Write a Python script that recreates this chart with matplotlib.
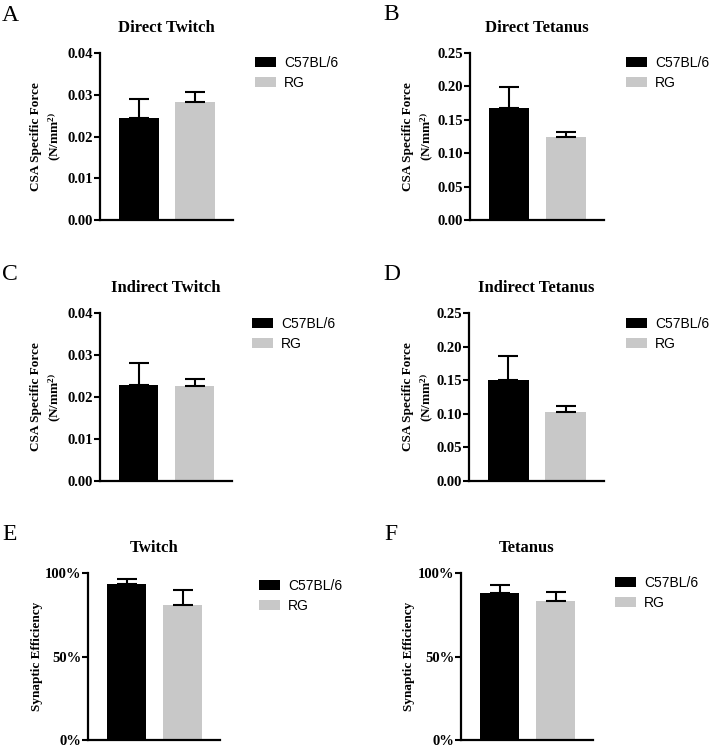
import matplotlib
matplotlib.use("Agg")
import matplotlib.pyplot as plt
from matplotlib.patches import Patch
from matplotlib.ticker import MultipleLocator, FormatStrFormatter, PercentFormatter

# ---- data ----
panel_letters = ["A", "B", "C", "D", "E", "F"]
titles = ["Direct Twitch", "Direct Tetanus", "Indirect Twitch",
          "Indirect Tetanus", "Twitch", "Tetanus"]
groups = ["C57BL/6", "RG"]
c57_mean = [0.0244, 0.168, 0.0229, 0.150, 0.934, 0.882]
c57_err = [0.0046, 0.031, 0.0051, 0.036, 0.030, 0.046]
rg_mean = [0.0283, 0.124, 0.0226, 0.102, 0.808, 0.832]
rg_err = [0.0024, 0.007, 0.0016, 0.009, 0.090, 0.052]
ymax = [0.04, 0.25, 0.04, 0.25, 1.0, 1.0]
ystep = [0.01, 0.05, 0.01, 0.05, 0.5, 0.5]
force_label = "CSA Specific Force\n(N/mm$^{2)}$"
eff_label = "Synaptic Efficiency"
ylabels = [force_label, force_label, force_label, force_label, eff_label, eff_label]

# ---- style ----
plt.rcParams['mathtext.fontset'] = 'custom'
plt.rcParams['mathtext.rm'] = 'Liberation Serif:bold'
plt.rcParams['mathtext.default'] = 'rm'
SERIF = "Liberation Serif"
SANS = "Liberation Sans"
colors = ["#000000", "#c8c8c8"]

W, H = 709, 748
fig = plt.figure(figsize=(W / 100, H / 100), dpi=100)

# axes rectangles in pixels: left, top, right, bottom
rects = [(100, 53, 233, 220), (470, 53, 604, 220),
         (100, 313, 232, 481), (469, 313, 604, 481),
         (88, 573, 220, 740), (461, 573, 593, 740)]
letter_pos = [(2, 5), (383, 4), (2, 264), (383, 264), (2, 524), (384, 524)]
label_x = [-0.28, -0.26, -0.28, -0.25, -0.34, -0.35]
leg_anchor = [(1.165, 0.982), (1.164, 0.982), (1.155, 0.977), (1.163, 0.977),
              (1.295, 0.964), (1.167, 0.982)]

for i in range(6):
    l, t, r, b = rects[i]
    ax = fig.add_axes([l / W, 1 - b / H, (r - l) / W, (b - t) / H])
    x = [0, 1]
    means = [c57_mean[i], rg_mean[i]]
    errs = [c57_err[i], rg_err[i]]
    ax.bar(x, means, width=0.71, color=colors, zorder=2)
    ax.errorbar(x, means, yerr=[[0, 0], errs], fmt='none', ecolor='black',
                elinewidth=1.5, capsize=7, capthick=1.5, zorder=3)
    ax.set_xlim(-0.69, 1.67)
    ax.set_ylim(0, ymax[i])
    ax.yaxis.set_major_locator(MultipleLocator(ystep[i]))
    if i >= 4:
        ax.yaxis.set_major_formatter(PercentFormatter(xmax=1, decimals=0))
    else:
        ax.yaxis.set_major_formatter(FormatStrFormatter('%.2f'))
    ax.set_xticks([])
    for s in ['top', 'right']:
        ax.spines[s].set_visible(False)
    for s in ['left', 'bottom']:
        ax.spines[s].set_linewidth(1.6)
    ax.tick_params(axis='y', length=4.5, width=1.5, pad=0.3)
    for lab in ax.get_yticklabels():
        lab.set_fontfamily(SERIF)
        lab.set_fontweight('bold')
        lab.set_fontsize(10.5)
    ax.set_title(titles[i], fontfamily=SERIF, fontweight='bold',
                 fontsize=12, pad=15)
    ax.set_ylabel(ylabels[i], fontfamily=SERIF, fontweight='bold',
                  fontsize=9.5, linespacing=1.35)
    ax.yaxis.set_label_coords(label_x[i], 0.5)
    handles = [Patch(facecolor=colors[0]), Patch(facecolor=colors[1])]
    ax.legend(handles, groups, loc='upper left', bbox_to_anchor=leg_anchor[i],
              frameon=False, prop={'family': SANS, 'size': 10},
              handlelength=1.5, handleheight=0.72, handletextpad=0.58,
              labelspacing=0.45, borderpad=0, borderaxespad=0)
    lx, ly = letter_pos[i]
    fig.text(lx / W, 1 - ly / H, panel_letters[i], fontfamily=SERIF,
             fontsize=17, va='top', ha='left')

fig.savefig("out.png", dpi=100)
